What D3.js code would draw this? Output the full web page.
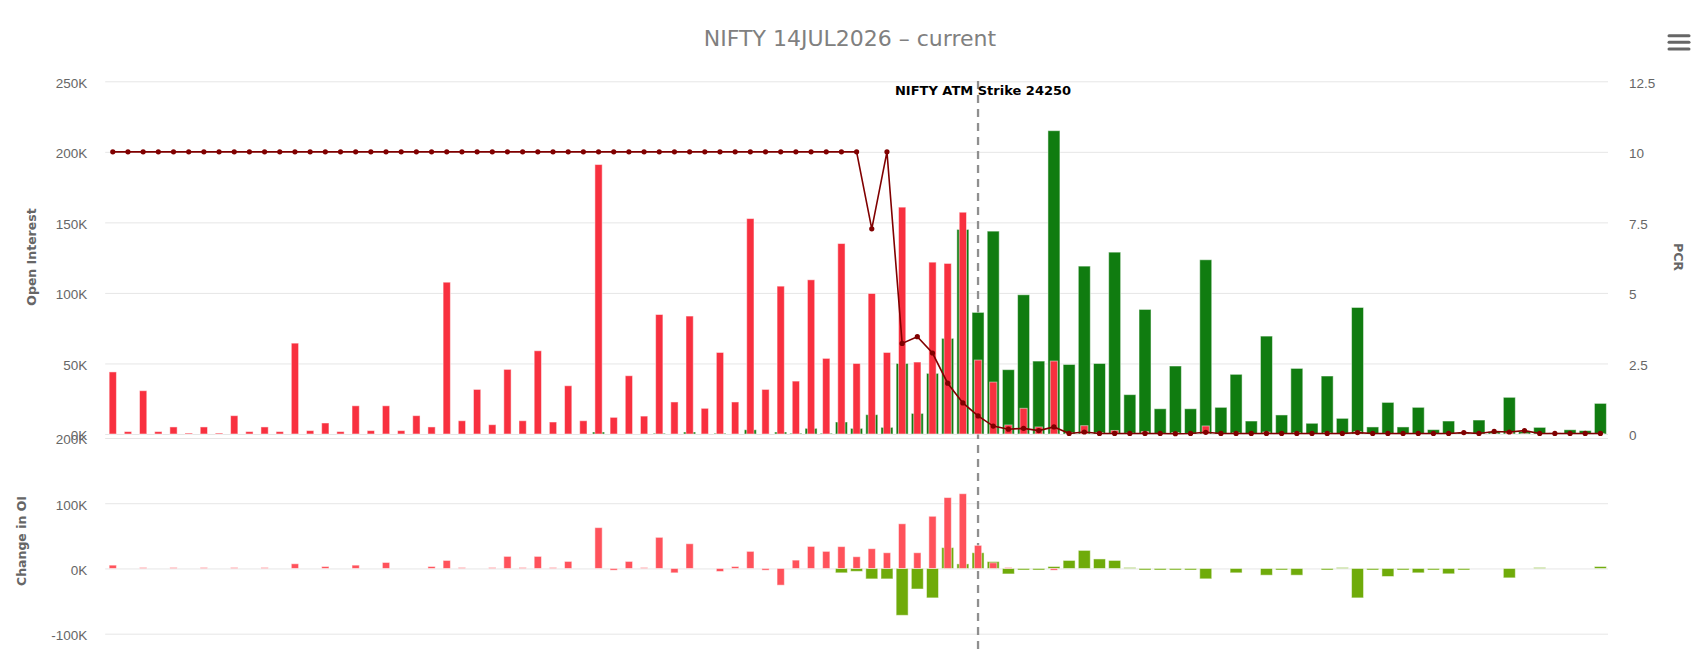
<!DOCTYPE html>
<html lang="en">
<head>
<meta charset="UTF-8">
<title>NIFTY 14JUL2026 - current</title>
<script src="https://d3js.org/d3.v7.min.js"></script>
<style>
    body { margin: 0; background: #fff; }
    svg { font-family: "DejaVu Sans", sans-serif; }
    .axis .tick line { stroke: #e6e6e6; }
    .axis .tick text { fill: #666; font-size: 13.5px; }
    .axis-title { fill: #666; font-size: 12.5px; font-weight: bold; }
</style>
</head>
<body>
<script>

// strikes (categories), 50 apart
var strikes = [21400,21450,21500,21550,21600,21650,21700,21750,21800,21850,
    21900,21950,22000,22050,22100,22150,22200,22250,22300,22350,
    22400,22450,22500,22550,22600,22650,22700,22750,22800,22850,
    22900,22950,23000,23050,23100,23150,23200,23250,23300,23350,
    23400,23450,23500,23550,23600,23650,23700,23750,23800,23850,
    23900,23950,24000,24050,24100,24150,24200,24250,24300,24350,
    24400,24450,24500,24550,24600,24650,24700,24750,24800,24850,
    24900,24950,25000,25050,25100,25150,25200,25250,25300,25350,
    25400,25450,25500,25550,25600,25650,25700,25750,25800,25850,
    25900,25950,26000,26050,26100,26150,26200,26250,26300];

var atmStrike = 24250;

// open interest, in thousands
var callOI = [44,1.7,30.7,1.7,5,0.7,5,0.7,13,1.7,
    5,1.7,64.4,2.4,7.8,1.7,20,2.4,20,2.4,
    13,5,107.6,9.4,31.6,6.6,45.8,9.4,59,8.5,
    34.2,9.4,191,11.8,41.3,12.7,84.7,22.7,83.6,18.2,
    57.8,22.7,152.7,31.6,104.8,37.5,109.3,53.6,135,50,
    99.6,57.8,160.8,51,121.8,120.9,157.2,52.4,36.8,6.4,
    18.2,5,51.7,1,5.9,1,2.5,0.6,1.8,0.4,
    1,0.4,5.7,0.4,0.8,0.2,1.4,0.3,0.9,0.2,
    0.8,0.2,1.8,0.1,0.5,0.1,0.4,0.1,0.3,0.1,
    0.2,0.2,1.5,0.2,0.1,0.1,0.1,0.1,0.4];

var putOI = [0,0,0,0,0,0,0,0,0,0,
    0,0,0,0,0,0,0,0,0,0,
    0,0,0,0,0,0,0,0,0,0,
    0,0,1.4,0,0,0,0.5,0,1.4,0,
    0.5,0,3,0,1.4,0.5,4,0.5,8.5,4,
    13.7,4.7,50,14.6,43,67.8,145,86.2,143.8,45.6,
    98.7,51.7,215,49.3,119,50,128.9,27.9,88.3,17.9,
    48.2,17.9,123.5,18.9,42.3,9.2,69.4,13.5,46.5,7.6,
    41.1,11.1,89.7,5,22.4,5,18.9,3.1,9.2,1,
    9.9,1.7,26,1.7,4.7,0.8,3,2.4,21.7];

var pcr = [10,10,10,10,10,10,10,10,10,10,
    10,10,10,10,10,10,10,10,10,10,
    10,10,10,10,10,10,10,10,10,10,
    10,10,10,10,10,10,10,10,10,10,
    10,10,10,10,10,10,10,10,10,10,
    7.27,10,3.21,3.45,2.87,1.8,1.1,0.64,0.28,0.17,
    0.2,0.12,0.25,0.02,0.07,0.02,0.02,0.02,0.02,0.02,
    0.01,0.02,0.06,0.02,0.02,0.02,0.02,0.02,0.02,0.02,
    0.02,0.02,0.05,0.02,0.02,0.02,0.02,0.02,0.02,0.05,
    0.02,0.09,0.07,0.12,0.02,0.02,0.02,0.02,0.02];

// change in open interest, in thousands
var callChg = [5.1,0,1.5,0,1.5,0,1.5,0,1.5,0,
    1.5,0,7.2,0,3,0,5.1,0,9.2,0,
    0,3,12.3,1.5,0,1.5,18.5,1.5,18.5,1.5,
    10.8,0,62.6,-2.6,10.8,1.5,47.7,-6.7,37.9,0,
    -4.6,3,26.2,-2.6,-25.6,12.8,33.8,26.2,33.5,18,
    30.3,24.1,68.5,24.1,80,108.7,114.6,35.4,8.7,1.5,
    0,0,-2.6,0,0,0,0,0,0,0,
    0,0,0,0,0,0,0,0,0,0,
    0,0,0,0,0,0,0,0,0,0,
    0,0,0,0,0,0,0,0,0];

var putChg = [0,0,0,0,0,0,0,0,0,0,
    0,0,0,0,0,0,0,0,0,0,
    0,0,0,0,0,0,0,0,0,0,
    0,0,0,0,0,0,0,0,0,0,
    0,0,0,0,0,0,0,0,-6.7,-4.4,
    -16,-16,-71.8,-31.5,-45.1,32,7,24.1,10.5,-8.4,
    -2.3,-2.3,3,12.3,27.7,14.6,12.3,1.5,-2.3,-2.3,
    -2.3,-2.3,-15.9,0,-6.7,0,-10.3,-2.3,-10.3,0,
    -2.3,1.5,-45.1,-2.3,-12.3,-2.3,-6.7,-2.3,-8.2,-2.3,
    0,0,-14.4,0,1.5,0,0,0,3];

var oiTicks = [0, 50, 100, 150, 200, 250];
var pcrTicks = [0, 2.5, 5, 7.5, 10, 12.5];
var chgTicks = [-100, 0, 100, 200];

var width = 1706, height = 653;
var left = 105.2, right = 1608;

var svg = d3.select("body").append("svg")
    .attr("width", width)
    .attr("height", height);

// scales
var x = d3.scaleBand().domain(strikes).range([left, right]);
var yOI = d3.scaleLinear().domain([0, 250]).range([434, 81.3]);
var yPCR = d3.scaleLinear().domain([0, 12.5]).range([434, 81.3]);
var yChg = d3.scaleLinear().domain([-100, 200]).range([633.7, 438]);

var cx = function(s) { return x(s) + x.bandwidth() / 2; };
var wideW = x.bandwidth() * 0.79, thinW = x.bandwidth() * 0.48;

// axes / grid
function gridAxis(g) {
    g.select(".domain").remove();
    g.selectAll(".tick text").attr("dy", "0.44em");
}
svg.append("g").attr("class", "axis")
    .attr("transform", "translate(" + left + ",0)")
    .call(d3.axisLeft(yOI).tickValues(oiTicks).tickSize(-(right - left)).tickPadding(18)
        .tickFormat(function(d) { return d + "K"; }))
    .call(gridAxis);
svg.append("g").attr("class", "axis")
    .attr("transform", "translate(" + left + ",0)")
    .call(d3.axisLeft(yChg).tickValues(chgTicks).tickSize(-(right - left)).tickPadding(18)
        .tickFormat(function(d) { return d + "K"; }))
    .call(gridAxis);
svg.append("g").attr("class", "axis")
    .attr("transform", "translate(" + right + ",0)")
    .call(d3.axisRight(yPCR).tickValues(pcrTicks).tickSize(0).tickPadding(21)
        .tickFormat(function(d) { return d; }))
    .call(gridAxis);

// ATM plot line (behind the bars)
var atmX = cx(atmStrike);
svg.append("line")
    .attr("x1", atmX).attr("x2", atmX)
    .attr("y1", 81).attr("y2", height)
    .attr("stroke", "#8f8f8f")
    .attr("stroke-width", 2.3)
    .attr("stroke-dasharray", "8,6");

// bars
function drawBars(vals, y, w, color) {
    svg.append("g").selectAll("rect")
        .data(vals)
        .enter().append("rect")
        .attr("x", function(d, i) { return cx(strikes[i]) - w / 2; })
        .attr("y", function(d) { return y(Math.max(d, 0)); })
        .attr("width", w)
        .attr("height", function(d) { return Math.abs(y(d) - y(0)); })
        .attr("fill", color)
        .attr("stroke", "#fff")
        .attr("stroke-opacity", 0.5)
        .attr("stroke-width", 1);
}
drawBars(putOI, yOI, wideW, "#107c10");
drawBars(callOI, yOI, thinW, "#f8303f");
drawBars(putChg, yChg, wideW, "#6fab0a");
drawBars(callChg, yChg, thinW, "#ff525b");

// PCR line
var pcrLine = d3.line()
    .x(function(d, i) { return cx(strikes[i]); })
    .y(function(d) { return yPCR(d); });
svg.append("path")
    .datum(pcr)
    .attr("d", pcrLine)
    .attr("fill", "none")
    .attr("stroke", "#800000")
    .attr("stroke-width", 1.6);
svg.append("g").selectAll("circle")
    .data(pcr)
    .enter().append("circle")
    .attr("cx", function(d, i) { return cx(strikes[i]); })
    .attr("cy", function(d) { return yPCR(d); })
    .attr("r", 2.6)
    .attr("fill", "#800000");

// ATM label
svg.append("text")
    .attr("x", atmX + 5).attr("y", 95)
    .attr("text-anchor", "middle")
    .style("font-size", "13px")
    .style("font-weight", "bold")
    .attr("fill", "#000")
    .text("NIFTY ATM Strike " + atmStrike);

// titles
svg.append("text")
    .attr("x", 850).attr("y", 46)
    .attr("text-anchor", "middle")
    .style("font-size", "22px")
    .attr("fill", "#808080")
    .text("NIFTY 14JUL2026 \u2013 current");

svg.append("text").attr("class", "axis-title")
    .attr("transform", "translate(31,257) rotate(-90)")
    .attr("text-anchor", "middle")
    .attr("dominant-baseline", "central")
    .text("Open Interest");
svg.append("text").attr("class", "axis-title")
    .attr("transform", "translate(21,541) rotate(-90)")
    .attr("text-anchor", "middle")
    .attr("dominant-baseline", "central")
    .text("Change in OI");
svg.append("text").attr("class", "axis-title")
    .attr("transform", "translate(1678,257) rotate(90)")
    .attr("text-anchor", "middle")
    .attr("dominant-baseline", "central")
    .text("PCR");

// menu icon
svg.append("g").selectAll("line")
    .data([35.8, 42.3, 48.9])
    .enter().append("line")
    .attr("x1", 1669).attr("x2", 1689)
    .attr("y1", function(d) { return d; })
    .attr("y2", function(d) { return d; })
    .attr("stroke", "#666")
    .attr("stroke-width", 3)
    .attr("stroke-linecap", "round");

</script>
</body>
</html>
